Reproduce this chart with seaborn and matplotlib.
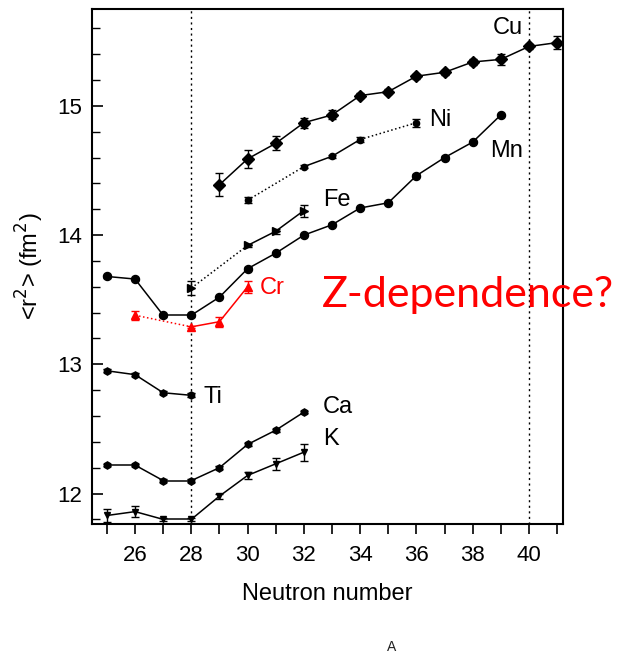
import matplotlib
matplotlib.use("Agg")
import matplotlib.pyplot as plt
from matplotlib.ticker import MultipleLocator
import seaborn as sns

# ---------------- data ----------------
CU_N = [29, 30, 31, 32, 33, 34, 35, 36, 37, 38, 39, 40, 41]
CU_R2 = [14.39, 14.59, 14.71, 14.87, 14.93, 15.08, 15.11, 15.23, 15.26, 15.34, 15.36, 15.46, 15.49]
CU_ERR = [0.09, 0.07, 0.055, 0.04, 0.035, 0.02, 0.02, 0.02, 0.02, 0.02, 0.04, 0.02, 0.05]
CU_SEG = ["-"] * 12

NI_N = [30, 32, 33, 34, 36]
NI_R2 = [14.27, 14.53, 14.61, 14.74, 14.87]
NI_ERR = [0.025, 0.01, 0.01, 0.02, 0.03]
NI_SEG = [":", "-", "-", ":"]

FE_N = [28, 30, 31, 32]
FE_R2 = [13.59, 13.92, 14.03, 14.19]
FE_ERR = [0.055, 0.01, 0.02, 0.046]
FE_SEG = [":", "-", "-"]

MN_N = [25, 26, 27, 28, 29, 30, 31, 32, 33, 34, 35, 36, 37, 38, 39]
MN_R2 = [13.68, 13.66, 13.38, 13.38, 13.52, 13.74, 13.86, 14.00, 14.08, 14.21, 14.25, 14.46, 14.60, 14.72, 14.93]
MN_ERR = [0.01] * 15
MN_SEG = ["-"] * 14

CR_N = [26, 28, 29, 30]
CR_R2 = [13.38, 13.29, 13.33, 13.60]
CR_ERR = [0.035, 0.01, 0.04, 0.045]
CR_SEG = [":", "-", "-"]

TI_N = [25, 26, 27, 28]
TI_R2 = [12.95, 12.92, 12.78, 12.76]
TI_ERR = [0.01, 0.01, 0.01, 0.015]
TI_SEG = ["-"] * 3

CA_N = [25, 26, 27, 28, 29, 30, 31, 32]
CA_R2 = [12.22, 12.22, 12.10, 12.10, 12.20, 12.38, 12.49, 12.63]
CA_ERR = [0.01] * 8
CA_SEG = ["-"] * 7

K_N = [25, 26, 27, 28, 29, 30, 31, 32]
K_R2 = [11.83, 11.86, 11.80, 11.80, 11.98, 12.14, 12.23, 12.32]
K_ERR = [0.05, 0.04, 0.01, 0.01, 0.02, 0.03, 0.047, 0.065]
K_SEG = ["-"] * 7

MAGIC_N = [28, 40]
X_TICKS = [26, 28, 30, 32, 34, 36, 38, 40]
Y_TICKS = [12, 13, 14, 15]

# ---------------- style ----------------
sns.set_style("ticks")
plt.rcParams["font.family"] = ["Liberation Sans", "DejaVu Sans"]
plt.rcParams["text.color"] = "black"
plt.rcParams["axes.labelcolor"] = "black"
plt.rcParams["xtick.color"] = "black"
plt.rcParams["ytick.color"] = "black"

fig = plt.figure(figsize=(6.21, 6.57), dpi=100)
ax = fig.add_axes([0.1486, 0.2024, 0.758, 0.7839])


def draw(xs, ys, errs, segs, marker, ms, color="black"):
    for i, ls in enumerate(segs):
        sns.lineplot(x=xs[i:i + 2], y=ys[i:i + 2], ax=ax, color=color,
                     linestyle=ls, linewidth=1.1, sort=False, estimator=None)
    ax.errorbar(xs, ys, yerr=errs, fmt=marker, ms=ms, color=color,
                mec=color, mfc=color, ecolor=color, elinewidth=1.0,
                capsize=3.2, capthick=1.0, ls="none", zorder=3)


for n in MAGIC_N:
    ax.axvline(n, color="black", linestyle=(0, (1.5, 2.5)), linewidth=1.0, zorder=1)

draw(CU_N, CU_R2, CU_ERR, CU_SEG, "D", 6.5)
draw(NI_N, NI_R2, NI_ERR, NI_SEG, "o", 4.5)
draw(FE_N, FE_R2, FE_ERR, FE_SEG, ">", 6.0)
draw(MN_N, MN_R2, MN_ERR, MN_SEG, "o", 5.8)
draw(CR_N, CR_R2, CR_ERR, CR_SEG, "^", 5.5, color="red")
draw(TI_N, TI_R2, TI_ERR, TI_SEG, "h", 5.2)
draw(CA_N, CA_R2, CA_ERR, CA_SEG, "h", 5.2)
draw(K_N, K_R2, K_ERR, K_SEG, "v", 5.0)

fs = 17
ax.text(39.25, 15.60, "Cu", fontsize=fs, ha="center", va="center")
ax.text(36.84, 14.89, "Ni", fontsize=fs, ha="center", va="center")
ax.text(39.21, 14.65, "Mn", fontsize=fs, ha="center", va="center")
ax.text(33.18, 14.27, "Fe", fontsize=fs, ha="center", va="center")
ax.text(30.89, 13.59, "Cr", fontsize=fs, ha="center", va="center", color="red")
ax.text(28.77, 12.745, "Ti", fontsize=fs, ha="center", va="center")
ax.text(33.20, 12.667, "Ca", fontsize=fs, ha="center", va="center")
ax.text(32.95, 12.42, "K", fontsize=fs, ha="center", va="center")

ax.set_xlim(24.48, 41.21)
ax.set_ylim(11.764, 15.75)
ax.set_xticks(X_TICKS)
ax.set_yticks(Y_TICKS)
ax.xaxis.set_minor_locator(MultipleLocator(1))
ax.yaxis.set_minor_locator(MultipleLocator(0.2))
ax.tick_params(axis="x", which="both", direction="out", length=7, width=1.2,
               labelsize=16, pad=8, top=False, bottom=True)
ax.tick_params(axis="y", which="major", direction="in", length=8, width=1.2,
               labelsize=16, pad=7.6, left=True, right=False)
ax.tick_params(axis="y", which="minor", direction="in", length=6, width=1.0,
               left=True, right=False)
for sp in ax.spines.values():
    sp.set_visible(True)
    sp.set_linewidth(1.5)
    sp.set_color("black")

ax.set_xlabel("Neutron number", fontsize=17, labelpad=12)
ax.set_ylabel(r"<r$^2$> (fm$^2$)", fontsize=17, labelpad=8)

fig.text(467.5 / 621, 1 - 295 / 657, "Z-dependence?", fontsize=31, color="red",
         ha="center", va="center", family=["Lato", "DejaVu Sans"])
fig.text(391.7 / 621, 1 - 647 / 657, "A", fontsize=10, color="#222222",
         ha="center", va="center")

fig.savefig("out.png", dpi=100)
